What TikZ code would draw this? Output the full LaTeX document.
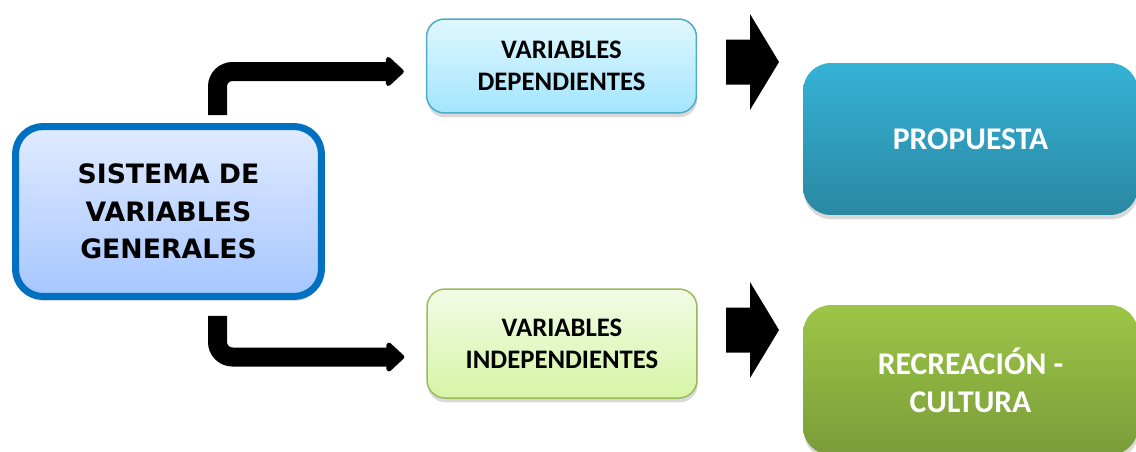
\documentclass[tikz,border=0pt]{standalone}
\usepackage{fontspec}
\usepackage{tikz}
\usetikzlibrary{calc,arrows.meta,shadows}
\newfontfamily\heavyfont{DejaVu Sans}
\newfontfamily\calfont{Carlito}
\definecolor{mainborder}{HTML}{0070C0}
\definecolor{maintop}{HTML}{E0EBFF}
\definecolor{mainbottom}{HTML}{A6C6FF}
\definecolor{depborder}{HTML}{4FACC6}
\definecolor{deptop}{HTML}{E0F7FE}
\definecolor{depbottom}{HTML}{A3E5FD}
\definecolor{indepborder}{HTML}{9BBB59}
\definecolor{indeptop}{HTML}{F2FBE6}
\definecolor{indepbottom}{HTML}{D6F5A6}
\definecolor{proptop}{HTML}{35B2D6}
\definecolor{propbottom}{HTML}{2A88A2}
\definecolor{rectop}{HTML}{9DC647}
\definecolor{recbottom}{HTML}{7A9C39}
\tikzset{
	boxshadow/.style={drop shadow={opacity=0.3,shadow xshift=0.4pt,shadow yshift=-2.5pt}},%
	mainbox/.style={draw=mainborder,line width=0.14cm,rounded corners=0.55cm,top color=maintop,bottom color=mainbottom,minimum width=6.12cm,minimum height=3.4cm,align=center,font=\heavyfont\bfseries\fontsize{15.2}{21.3}\selectfont,boxshadow},%
	varbox/.style={line width=0.03cm,rounded corners=0.36cm,minimum width=5.4cm,align=center,font=\calfont\bfseries\fontsize{15.2}{18.2}\selectfont,boxshadow},%
	depbox/.style={varbox,draw=depborder,top color=deptop,bottom color=depbottom,minimum height=1.88cm},%
	indepbox/.style={varbox,draw=indepborder,top color=indeptop,bottom color=indepbottom,minimum height=2.18cm},%
	resultbox/.style={rounded corners=0.56cm,minimum width=6.7cm,text=white,align=center,font=\calfont\bfseries\fontsize{18}{21.8}\selectfont,boxshadow},%
	elbow/.style={line width=0.38cm,rounded corners=0.3cm,-{Triangle[length=0.38cm,width=0.68cm,round]}},%
	blockarrow/.style={fill=black},%
}
\def\arrowgap{22}

\begin{document}
\begin{tikzpicture}[%
		x=0.02cm,y=-0.02cm,%
		]
		\useasboundingbox (0,0) rectangle (1136,451);
		\node[mainbox] (main) at (168.5,211.5) {SISTEMA DE\\VARIABLES\\GENERALES};
		\node[depbox] (dep) at (561.5,66) {VARIABLES\\DEPENDIENTES};
		\node[indepbox] (indep) at (562,343.5) {VARIABLES\\INDEPENDIENTES};
		\node[resultbox,top color=proptop,bottom color=propbottom,minimum height=3.04cm] (prop) at (970.5,139) {PROPUESTA};
		\node[resultbox,top color=rectop,bottom color=recbottom,minimum height=3cm] (rec) at (970.5,380) {RECREACIÓN -\\CULTURA};
		\draw[elbow] ($(main.north)+(49,-8)$) |- ($(dep.west)+(-\arrowgap,5.5)$);
		\draw[elbow] ($(main.south)+(49,16)$) |- ($(indep.west)+(-\arrowgap,13.5)$);
		\foreach \yc in {62,330}
			\fill[blockarrow] (726,\yc-22.5) -- (750,\yc-22.5) -- (750,\yc-48) -- (779,\yc) -- (750,\yc+48) -- (750,\yc+22.5) -- (726,\yc+22.5) -- cycle;
	\end{tikzpicture}
\end{document}
